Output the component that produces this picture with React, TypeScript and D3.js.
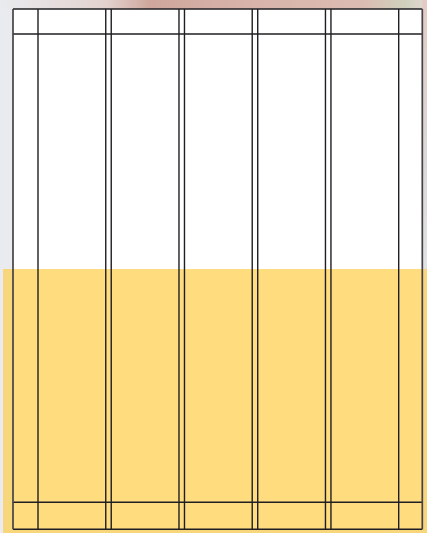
import * as d3 from "d3";

// blank table: an index column, five data columns, a trailing column
const columns = ["c1", "c2", "c3", "c4", "c5"];
const rows = ["header", "body", "footer"];
const rowHeights = [25, 468, 27];

const W = 427;
const H = 533;

export default function App() {
  const left = 13;
  const right = 422.3;
  const top = 9;

  const x = d3
    .scaleBand()
    .domain(columns)
    .range([38, 398.7])
    .paddingInner(0.075)
    .paddingOuter(0);

  const cum = d3.cumsum(rowHeights);
  const y = d3
    .scaleLinear()
    .domain([0, d3.sum(rowHeights)])
    .range([top, top + d3.sum(rowHeights) + 0.3]);

  const rowLines = [0, ...Array.from(cum)];

  const stroke = "#1f1f23";

  return (
    <svg
      width={W}
      height={H}
      style={{ position: "absolute", left: 0, top: 0 }}
    >
      <defs>
        <linearGradient id="topStrip" x1="0" x2="1" y1="0" y2="0">
          <stop offset="0" stopColor="#e9ebef" />
          <stop offset="0.25" stopColor="#e3d2cf" />
          <stop offset="0.35" stopColor="#cfa79c" />
          <stop offset="0.6" stopColor="#d8b4aa" />
          <stop offset="0.85" stopColor="#dcbcb2" />
          <stop offset="0.95" stopColor="#cfd1bd" />
          <stop offset="1" stopColor="#e2d8d4" />
        </linearGradient>
        <linearGradient id="rightStrip" x1="0" x2="0" y1="0" y2="1">
          <stop offset="0" stopColor="#e4cbc4" />
          <stop offset="0.5" stopColor="#dcd6d4" />
          <stop offset="1" stopColor="#e2e2e4" />
        </linearGradient>
      </defs>
      {/* photo-like background */}
      <rect x={0} y={0} width={W} height={H} fill="#e9ebef" />
      <rect x={0} y={0} width={W} height={top} fill="url(#topStrip)" />
      <rect x={right} y={0} width={W - right} height={269} fill="url(#rightStrip)" />
      <rect x={left} y={top} width={right - left} height={269 - top} fill="#ffffff" />
      <rect x={3} y={269} width={W - 3} height={H - 269} fill="#f8d67c" />
      <rect x={left} y={269} width={right - left} height={y(cum[2]) - 269} fill="#ffdc7e" />

      {/* horizontal rules */}
      {rowLines.map((v, i) => (
        <line
          key={`h-${rows[i] ?? "end"}`}
          x1={left}
          x2={right}
          y1={y(v)}
          y2={y(v)}
          stroke={stroke}
          strokeWidth={1.4}
        />
      ))}

      {/* outer verticals + index column divider */}
      {[left, 38, right].map((xv, i) => (
        <line
          key={`o-${i}`}
          x1={xv}
          x2={xv}
          y1={y(0)}
          y2={y(cum[2])}
          stroke={i === 1 ? stroke : "#444448"}
          strokeWidth={i === 1 ? 1.4 : 1.7}
        />
      ))}

      {/* column edges (double rules between columns) */}
      {columns.map((c, i) => {
        const x0 = x(c) ?? 0;
        const x1 = x0 + x.bandwidth();
        const edges = i === 0 ? [x1] : [x0, x1];
        return edges.map((xv, j) => (
          <line
            key={`${c}-${j}`}
            x1={xv}
            x2={xv}
            y1={y(0)}
            y2={y(cum[2])}
            stroke={stroke}
            strokeWidth={1.4}
          />
        ));
      })}
    </svg>
  );
}
